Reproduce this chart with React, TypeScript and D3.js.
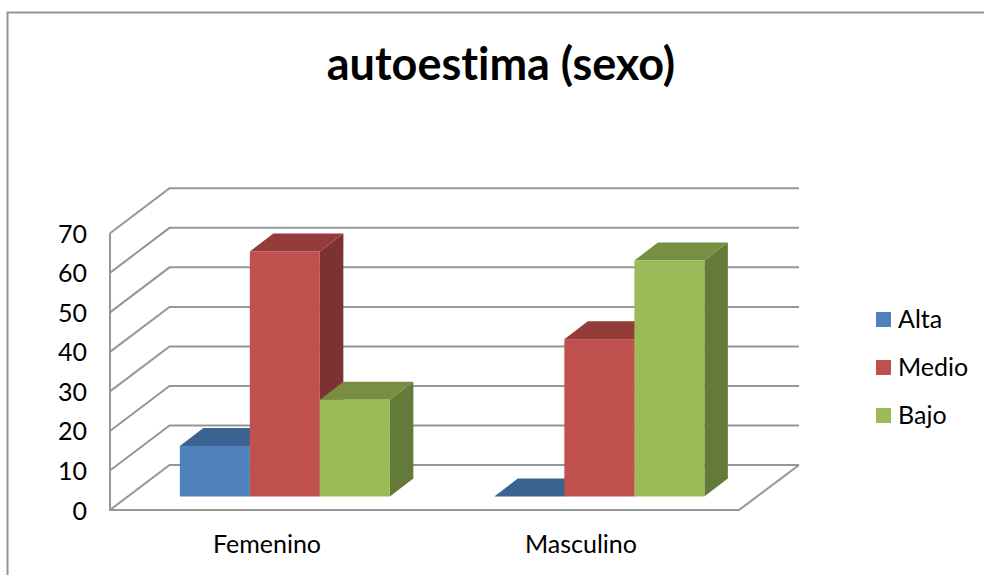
import React from "react";
import * as d3 from "d3";

const categories = ["Femenino", "Masculino"];
const seriesNames = ["Alta", "Medio", "Bajo"];
const alta = [12.8, 0];
const medio = [62, 39.8];
const bajo = [24.5, 59.7];
const yTicks = [0, 10, 20, 30, 40, 50, 60, 70];
const frontColors = ["#4f81bd", "#c0504d", "#9bbb59"];
const topColors = ["#3c6290", "#933c3a", "#778e43"];
const sideColors = ["#335379", "#7c3230", "#647a39"];

const FONT = "Lato, Carlito, Calibri, sans-serif";
const GRID = "#969696";

export default function App() {
  const y = d3.scaleLinear().domain([0, 70]).range([510, 233.3]);
  const x = d3.scaleBand().domain(categories).range([110, 739]);
  const values = [alta, medio, bajo];
  const wallDx = 59.5;
  const wallDy = -45;
  const barDx = 23.5;
  const barDy = -18;
  const barBase = 496.5;
  const barW = 70;
  const unit = y(0) - y(1);
  const groupLeft = (c: string) => x(c)! + x.bandwidth() / 2 - (barW * 3) / 2 + 17.6;
  const poly = d3.line();

  return (
    <svg
      width={984}
      height={575}
      style={{
        position: "absolute",
        left: 0,
        top: 0,
        display: "block",
        background: "#fff",
        fontVariantLigatures: "none",
      }}
    >
      <path d={`M7.5 575V12.5H984`} fill="none" stroke={GRID} strokeWidth={2} />
      <text x={501} y={80} textAnchor="middle" fontFamily={FONT} fontWeight={700} fontSize={45} fill="#000">
        autoestima (sexo)
      </text>

      {yTicks.map((t) => (
        <path
          key={t}
          d={poly([
            [x.range()[0], y(t)],
            [x.range()[0] + wallDx, y(t) + wallDy],
            [799, y(t) + wallDy],
          ])!}
          fill="none"
          stroke={GRID}
          strokeWidth={2}
        />
      ))}
      <path
        d={poly([
          [110, y(70)],
          [110, y(0)],
          [739, y(0)],
          [799, y(0) + wallDy],
        ])!}
        fill="none"
        stroke={GRID}
        strokeWidth={2}
      />
      {yTicks.map((t) => (
        <text key={`lab${t}`} x={87} y={y(t) + 9.5} textAnchor="end" fontFamily={FONT} fontSize={25} fill="#000">
          {t}
        </text>
      ))}

      {categories.map((c, ci) =>
        seriesNames.map((s, si) => {
          const v = values[si][ci];
          const x0 = groupLeft(c) + si * barW;
          const x1 = x0 + barW;
          const top = barBase - v * unit;
          return (
            <g key={`${c}-${s}`}>
              <path
                d={poly([
                  [x1, top],
                  [x1 + barDx, top + barDy],
                  [x1 + barDx, barBase + barDy],
                  [x1, barBase],
                ])! + "Z"}
                fill={sideColors[si]}
              />
              <path
                d={poly([
                  [x0, top],
                  [x0 + barDx, top + barDy],
                  [x1 + barDx, top + barDy],
                  [x1, top],
                ])! + "Z"}
                fill={topColors[si]}
              />
              {v > 0 && <rect x={x0} y={top} width={barW} height={barBase - top} fill={frontColors[si]} />}
            </g>
          );
        })
      )}

      {categories.map((c) => (
        <text
          key={c}
          x={c === "Femenino" ? 267 : 581}
          y={553}
          textAnchor="middle"
          fontFamily={FONT}
          fontSize={25}
          fill="#000"
        >
          {c}
        </text>
      ))}

      {seriesNames.map((s, i) => (
        <g key={s}>
          <rect x={876} y={312 + i * 48} width={15} height={15} fill={frontColors[i]} />
          <text x={898} y={328 + i * 48} fontFamily={FONT} fontSize={25} fill="#000">
            {s}
          </text>
        </g>
      ))}
    </svg>
  );
}
